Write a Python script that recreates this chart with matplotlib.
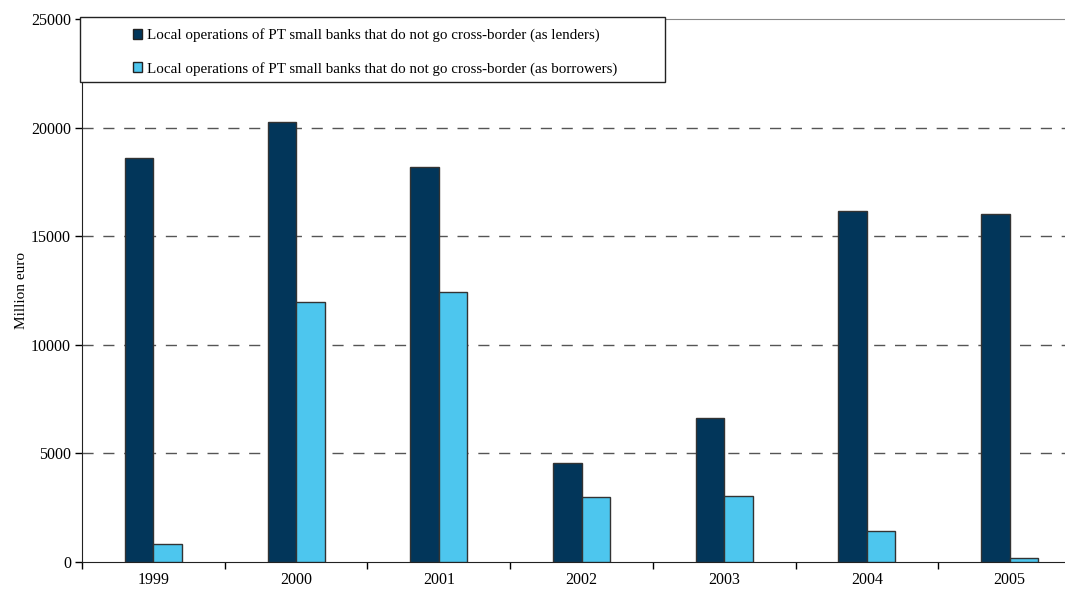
import numpy as np
import matplotlib
matplotlib.use("Agg")
import matplotlib.pyplot as plt
from matplotlib.patches import Rectangle, Patch

plt.rcParams['font.family'] = ['Liberation Serif', 'DejaVu Serif']

# dane
years = ['1999', '2000', '2001', '2002', '2003', '2004', '2005']
lenders = [18620, 20240, 18170, 4540, 6640, 16160, 16040]
borrowers = [815, 11980, 12410, 3000, 3035, 1440, 185]
label_lenders = 'Local operations of PT small banks that do not go cross-border (as lenders)'
label_borrowers = 'Local operations of PT small banks that do not go cross-border (as borrowers)'

c_dark = '#02365a'
c_light = '#4dc6ee'

fig = plt.figure(figsize=(10.65, 5.89), dpi=100)
W, H = 1065, 589
ax = fig.add_axes([82 / W, (H - 562) / H, (1081 - 82) / W, 543 / H])

x = np.arange(len(years))
w = 0.2
ax.bar(x - w / 2, lenders, w, color=c_dark, edgecolor='#333333', linewidth=1, zorder=3)
ax.bar(x + w / 2, borrowers, w, color=c_light, edgecolor='#333333', linewidth=1, zorder=3)

ax.set_xlim(-0.5, len(years) - 0.5)
ax.set_ylim(0, 25000)
ax.set_yticks([0, 5000, 10000, 15000, 20000, 25000])
ax.tick_params(axis='y', labelsize=11.5, direction='out', length=5, width=1, pad=3)

# podeoci izmedju kategorija, labele na sredini
ax.set_xticks(np.arange(len(years) + 1) - 0.5)
ax.set_xticklabels([])
ax.set_xticks(x, minor=True)
ax.set_xticklabels(years, minor=True, fontsize=11.5)
ax.tick_params(axis='x', which='major', direction='out', length=5, width=1)
ax.tick_params(axis='x', which='minor', length=0, pad=7)

for v in [5000, 10000, 15000, 20000]:
    ax.axhline(v, color='#555555', linewidth=1, dashes=(8, 7), zorder=1)

ax.spines['right'].set_visible(False)
ax.spines['top'].set_color('#888888')
ax.spines['left'].set_color('#222222')
ax.spines['bottom'].set_color('#222222')

ax.set_ylabel('Million euro', fontsize=11, labelpad=2)

# okvir legende
fig.patches.append(Rectangle((80 / W, (H - 82) / H), (665 - 80) / W, 65 / H,
                             transform=fig.transFigure, facecolor='white',
                             edgecolor='#222222', linewidth=1, zorder=5))
handles = [Patch(facecolor=c_dark, edgecolor='#222222'),
           Patch(facecolor=c_light, edgecolor='#222222')]
leg = fig.legend(handles, [label_lenders, label_borrowers], loc='upper left',
                 bbox_to_anchor=(122 / W, (H - 18) / H), frameon=False, fontsize=10.8,
                 handlelength=0.65, handleheight=0.65, handletextpad=0.3,
                 labelspacing=1.3, borderpad=0.2)
leg.set_zorder(6)

fig.savefig('out.png', dpi=100)
